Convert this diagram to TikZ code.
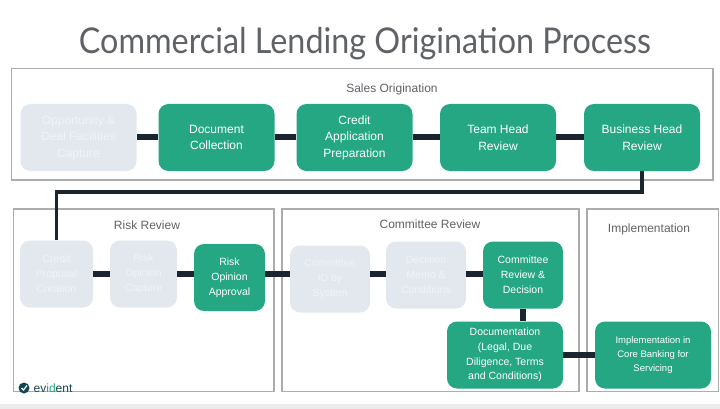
\documentclass[tikz,border=0pt]{standalone}
\usepackage{fontspec}
\setmainfont{Liberation Sans}
\newfontfamily\titlefont[FakeStretch=0.91]{Lato}
\usepackage{tikz}
\usetikzlibrary{arrows.meta,calc}
\definecolor{evGreen}{RGB}{37,167,132}
\definecolor{evFaded}{RGB}{226,232,238}
\definecolor{evFadedText}{RGB}{241,244,247}
\definecolor{evDark}{RGB}{27,37,48}
\definecolor{evTeal}{RGB}{20,70,80}
\definecolor{evFrame}{RGB}{170,172,174}
\definecolor{evLabel}{RGB}{95,98,102}
\tikzset{
    x=1pt,y=-1pt,
    frame/.style={draw=evFrame,line width=1.4pt,fill=white},
    phase/.style={text=evLabel,font=\fontsize{12}{14}\selectfont},
    stage/.style={rectangle,rounded corners=10pt,inner sep=0pt,align=center,minimum width=#1},
    stage/.default=116pt,
    done/.style={stage=#1,fill=evFaded,text=evFadedText},
    done/.default=116pt,
    live/.style={stage=#1,fill=evGreen,text=white},
    live/.default=116pt,
    big/.style={minimum height=67pt,font=\fontsize{12}{16.5}\selectfont,execute at begin node={\vspace{2pt}}},
    small/.style={minimum height=67pt,font=\fontsize{10.5}{14.8}\selectfont,execute at begin node={\vspace{4pt}}},
    link/.style={draw=evDark,line width=6pt},
    route/.style={draw=evDark,line width=3.6pt}
}

\begin{document}
\begin{tikzpicture}
  \useasboundingbox (0,0) rectangle (720,409);
  \fill[white] (0,0) rectangle (720,409);
  \fill[black!8] (0,404) rectangle (720,409);

  \node[text=evLabel,font=\titlefont\fontsize{35.5}{40}\selectfont] (title) at (365,44) {Commercial Lending Origination Process};

  % frames
  \draw[frame] (11.5,68.5) rectangle (713,180);
  \draw[frame] (13.5,209) rectangle (274,391.5);
  \draw[frame] (282,209) rectangle (579,391.5);
  \draw[frame] (587,209) rectangle (718.5,391.5);
  \node[phase] (sales) at (392,89) {Sales Origination};
  \node[phase] (risk) at (147,225.5) {Risk Review};
  \node[phase] (committee) at (430,224.5) {Committee Review};
  \node[phase] (impl) at (649,229.5) {Implementation};

  % top row
  \node[done,big] (opp) at (78.5,137.5)  {Opportunity \&\\Deal Facilities\\Capture};
  \node[live,big] (doc) at (216.5,137.5) {Document\\Collection} edge[link] (opp);
  \node[live,big] (app) at (354.5,137.5) {Credit\\Application\\Preparation} edge[link] (doc);
  \node[live,big] (team) at (498,137.5)  {Team Head\\Review} edge[link] (app);
  \node[live,big] (biz) at (642,137.5)   {Business Head\\Review} edge[link] (team);

  % risk review
  \node[done=73pt,small] (prop) at (56.5,274)  {Credit\\Proposal\\Creation};
  \node[done=67pt,small] (opin) at (143.5,274) {Risk\\Opinion\\Capture} edge[link] (prop);
  \node[live=71pt,small] (appr) at (229.5,277.5) {Risk\\Opinion\\Approval};
  \draw[link] (opin.east) -- (appr.west |- opin.east);

  % committee review
  \node[done=80pt,small] (cid) at (330,279)  {Committee\\ID by\\System};
  \node[done=80pt,small] (memo) at (426,275) {Decision\\Memo \&\\Conditions};
  \node[live=80pt,small] (dec) at (523,275)  {Committee\\Review \&\\Decision};
  \node[live,small] (legal) at (505,355)     {Documentation\\(Legal, Due\\Diligence, Terms\\and Conditions)};
  \draw[link] (appr.east |- opin.east) -- (cid.west |- opin.east);
  \draw[link] (cid.east |- opin.east) -- (memo.west |- opin.east);
  \draw[link] (memo.east |- opin.east) -- (dec.west |- opin.east);
  \draw[link] (dec.south) -- (dec.south |- legal.north);

  % implementation
  \node[live,small,font=\fontsize{9.5}{14}\selectfont] (core) at (653,355) {Implementation in\\Core Banking for\\Servicing} edge[link] (legal);

  \draw[route] (biz.south) -- ++(0,21) -| (prop.north);

  % logo
  \node[circle,fill=evTeal,minimum size=11pt,inner sep=0pt] (mark) at (24,388) {};
  \draw[white,line width=1.2pt] ($(mark)+(-2.5,0)$) -- ($(mark)+(-0.5,2)$) -- ($(mark)+(3,-2.5)$);
  \node[anchor=west,inner sep=0pt,text=evTeal,font=\fontsize{12}{13}\selectfont] (brand) at (33.5,388.5) {ev\textcolor{evGreen}{id}ent};
\end{tikzpicture}
\end{document}
